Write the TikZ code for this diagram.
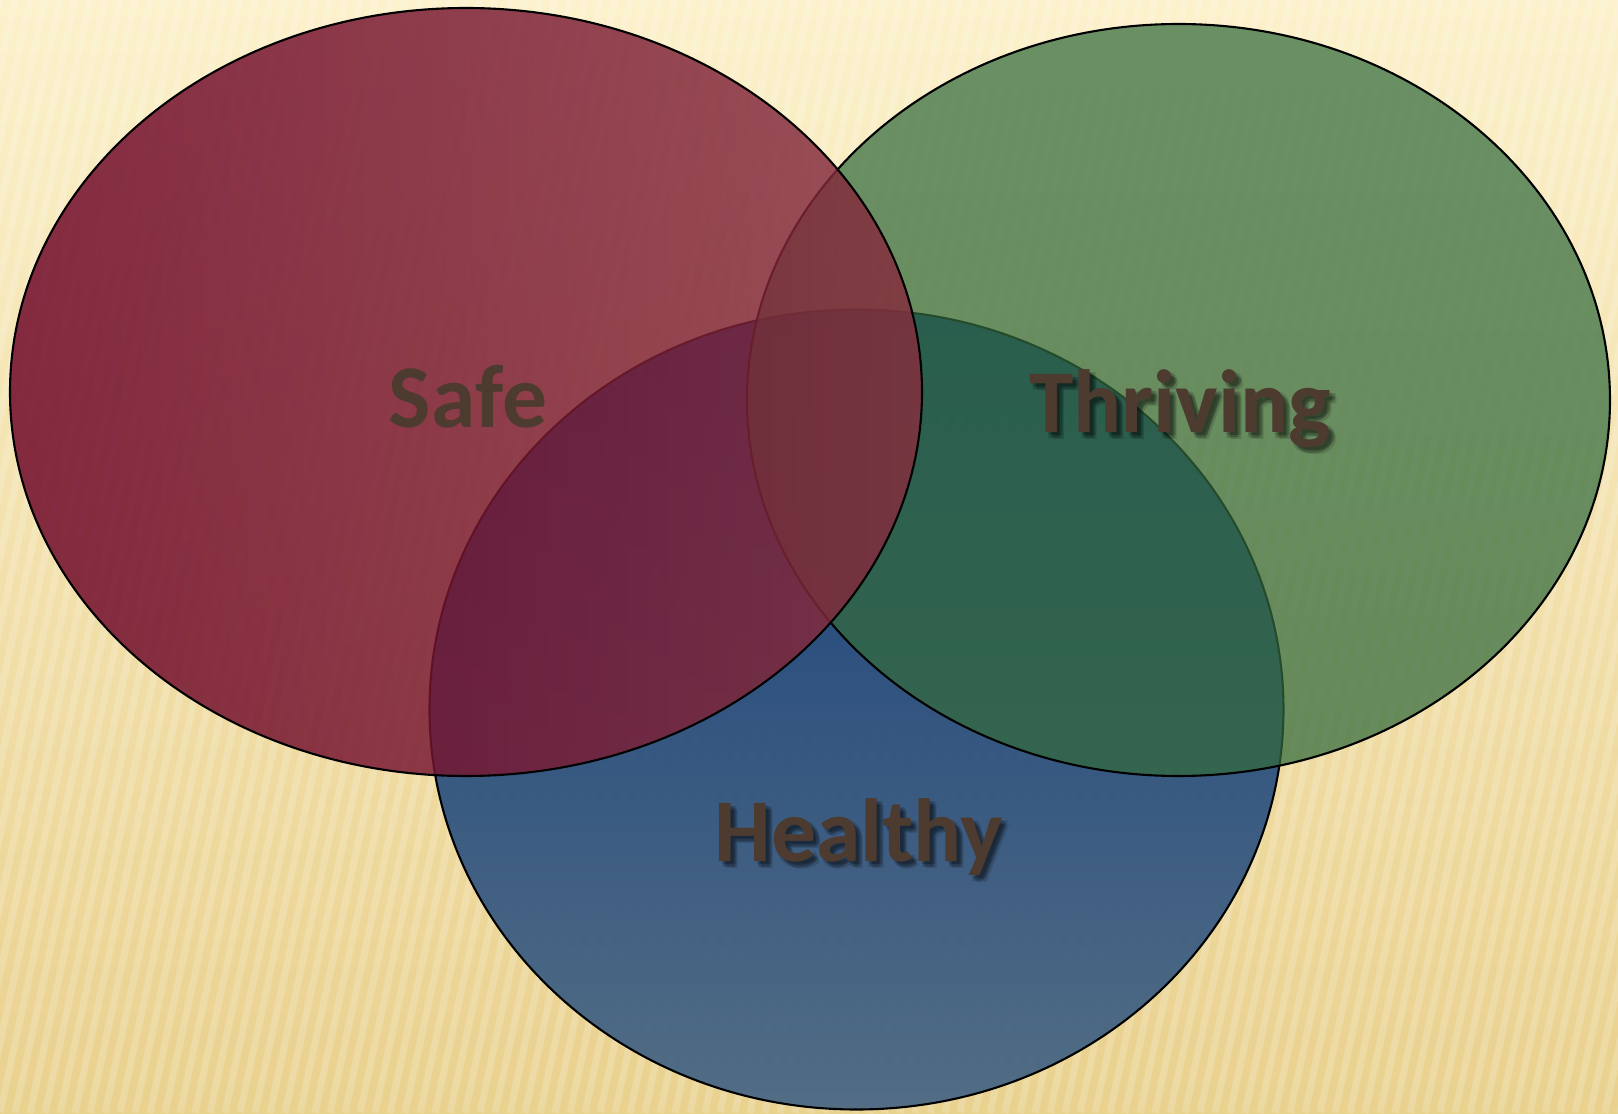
\documentclass[tikz,border=0pt]{standalone}
\usepackage{fontspec}
\setsansfont{Carlito}
\usepackage{tikz}
\usetikzlibrary{shapes.geometric}

\definecolor{bgtop}{RGB}{252,241,203}
\definecolor{bgbottom}{RGB}{233,209,142}
\definecolor{safeleft}{RGB}{106,0,36}
\definecolor{saferight}{RGB}{133,45,61}
\definecolor{thrivefill}{RGB}{50,106,60}
\definecolor{healthtop}{RGB}{8,52,120}
\definecolor{healthmid}{RGB}{28,76,138}
\definecolor{healthbottom}{RGB}{74,104,132}
\definecolor{wordcolor}{RGB}{78,59,48}

\begin{document}
\begin{tikzpicture}[
  venn/.style    = {draw=black, line width=0.6pt, ellipse, inner sep=0pt},
  safeset/.style = {venn, left color=safeleft, right color=saferight, fill opacity=0.82},
  thriveset/.style = {venn, fill=thrivefill, fill opacity=0.72},
  healthset/.style = {venn, top color=healthtop, middle color=healthmid,
                      bottom color=healthbottom, fill opacity=0.95},
  word/.style    = {font=\sffamily\bfseries\fontsize{25.5}{30}\selectfont, text=wordcolor, anchor=base},
  wordshade/.style = {word, text=black, text opacity=0.14}
]

  % page and background
  \useasboundingbox (0,0) rectangle (16.18,11.13);
  \shade[top color=bgtop, bottom color=bgbottom] (0,0) rectangle (16.18,11.13);
  \begin{scope}
    \clip (0,0) rectangle (16.18,11.13);
    \foreach \x in {-3,-2.85,...,19}
      \draw[white, opacity=0.18, line width=2pt] (\x,11.13) -- ++(-2.4,-11.13);
  \end{scope}

  % the three sets, bottom one first
  \node[healthset, minimum width=8.54cm, minimum height=8.00cm] (health) at (8.565,4.035) {};
  \node[thriveset, minimum width=8.63cm, minimum height=7.52cm] (thrive) at (11.785,7.13) {};
  \node[safeset, minimum width=9.12cm, minimum height=7.68cm] (safe) at (4.66,7.21) {};

  % labels
  \coordinate (safepos) at (4.68,6.86);
  \coordinate (thrivepos) at (11.80,6.81);
  \coordinate (healthpos) at (8.585,2.52);

  \node[word] (safelabel) at (safepos) {Safe};

  % soft drop shadow from a few faint copies
  \foreach \dx/\dy [count=\i] in {0.3/-0.3, 0.5/-0.5, 0.7/-0.7, 0.6/-0.35, 0.35/-0.6} {
    \node[wordshade, xshift=\dx mm, yshift=\dy mm] (thriveshade-\i) at (thrivepos) {Thriving};
    \node[wordshade, xshift=\dx mm, yshift=\dy mm] (healthshade-\i) at (healthpos) {Healthy};
  }
  \node[word] (thrivelabel) at (thrivepos) {Thriving};
  \node[word] (healthlabel) at (healthpos) {Healthy};

\end{tikzpicture}
\end{document}
